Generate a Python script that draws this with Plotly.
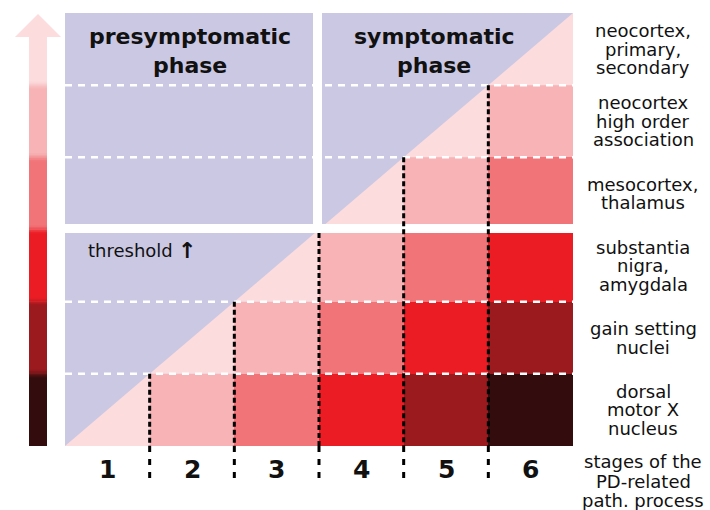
import plotly.graph_objects as go

# ---------------- data ----------------
stages = [1, 2, 3, 4, 5, 6]
regions = [
    "dorsal<br>motor X<br>nucleus",
    "gain setting<br>nuclei",
    "substantia<br>nigra,<br>amygdala",
    "mesocortex,<br>thalamus",
    "neocortex<br>high order<br>association",
    "neocortex,<br>primary,<br>secondary",
]
# pathology level per region (rows, bottom -> top) and stage (columns)
# 0 = not affected, 1 = onset (partial cell), 2..6 = increasing severity
levels = [
    [1, 2, 3, 4, 5, 6],
    [0, 1, 2, 3, 4, 5],
    [0, 0, 1, 2, 3, 4],
    [0, 0, 0, 1, 2, 3],
    [0, 0, 0, 0, 1, 2],
    [0, 0, 0, 0, 0, 1],
]
phase_titles = ["presymptomatic<br>phase", "symptomatic<br>phase"]
threshold_label = "threshold"
threshold_row = 3          # boundary between lower and upper region blocks
symptom_stage = 3          # boundary between presymptomatic and symptomatic stages
stage_axis_title = "stages of the<br>PD-related<br>path. process"

# ---------------- style ----------------
level_colors = ["#CBC8E3", "#FCDCDD", "#F7B3B5", "#F07478",
                "#EC1C24", "#9A1A1E", "#330C0D"]
W, H = 710, 510
GX0, GX1, GY0, GY1 = 65, 573, 446, 13      # grid pixel frame
ux = (GX1 - GX0) / 6.0
uy = (GY0 - GY1) / 6.0


def px_x(p):
    return (p - GX0) / ux


def px_y(p):
    return (GY0 - p) / uy


def hex2rgb(h):
    h = h.lstrip("#")
    return [int(h[i:i + 2], 16) for i in (0, 2, 4)]


def mix(c1, c2, t):
    a, b = hex2rgb(c1), hex2rgb(c2)
    return "rgb(%d,%d,%d)" % tuple(round(a[i] + (b[i] - a[i]) * t) for i in range(3))


n_st = len(stages)
n_rg = len(regions)

fig = go.Figure()

# heat cells
z = [[lv if lv >= 2 else 0 for lv in row] for row in levels]
cs = []
nc = len(level_colors)
for i, c in enumerate(level_colors):
    cs.append([i / nc, c])
    cs.append([(i + 1) / nc, c])
fig.add_trace(go.Heatmap(
    x=list(range(n_st + 1)), y=list(range(n_rg + 1)), z=z,
    zmin=-0.5, zmax=nc - 0.5, colorscale=cs, showscale=False,
    hoverinfo="skip", xgap=0, ygap=0))

# onset triangles
tx, ty = [], []
for r, row in enumerate(levels):
    for c, lv in enumerate(row):
        if lv == 1:
            tx += [c, c + 1, c + 1, c, None]
            ty += [r, r, r + 1, r, None]
fig.add_trace(go.Scatter(x=tx, y=ty, mode="lines", fill="toself",
                         fillcolor=level_colors[1], line=dict(width=0),
                         hoverinfo="skip", showlegend=False))

# white dashed row separators
dx, dy = [], []
for r in range(1, n_rg):
    if r == threshold_row:
        continue
    dx += [0, n_st, None]
    dy += [r, r, None]
fig.add_trace(go.Scatter(x=dx, y=dy, mode="lines",
                         line=dict(color="white", width=2.5, dash="7px,6px"),
                         hoverinfo="skip", showlegend=False))

# white separating bands (threshold and phase split)
band_lo, band_hi = px_y(233), px_y(224)
fig.add_trace(go.Scatter(
    x=[-0.02, n_st + 0.02, n_st + 0.02, -0.02, -0.02, None,
       px_x(313), px_x(322), px_x(322), px_x(313), px_x(313)],
    y=[band_lo, band_lo, band_hi, band_hi, band_lo, None,
       threshold_row, threshold_row, n_rg + 0.05, n_rg + 0.05, threshold_row],
    mode="lines", fill="toself", fillcolor="white", line=dict(width=0),
    hoverinfo="skip", showlegend=False))

# black dotted stage boundaries
vx, vy, bx, by = [], [], [], []
for k in range(1, n_st):
    top = k if k != threshold_row else band_lo
    vx += [k, k, None]
    vy += [top, 0, None]
    bx += [k, k, None]
    by += [0, px_y(484), None]
fig.add_trace(go.Scatter(x=vx, y=vy, mode="lines",
                         line=dict(color="black", width=3, dash="5px,3px"),
                         hoverinfo="skip", showlegend=False))
fig.add_trace(go.Scatter(x=bx, y=by, mode="lines",
                         line=dict(color="black", width=3, dash="6px,7px"),
                         hoverinfo="skip", showlegend=False))

# ---------------- left severity arrow ----------------
shapes = []
sx0, sx1 = px_x(29), px_x(47)
for r in range(n_rg):
    lv = n_rg - r
    y1 = r + 1 if r < n_rg - 1 else px_y(37)
    shapes.append(dict(type="rect", xref="x", yref="y", x0=sx0, x1=sx1,
                       y0=r, y1=y1, fillcolor=level_colors[lv],
                       line=dict(width=0), layer="above"))
# soft blends between arrow blocks
blend_px = 8
nsteps = 6
for r in range(1, n_rg):
    c_lo, c_hi = level_colors[n_rg - r + 1], level_colors[n_rg - r]
    step = blend_px / nsteps / uy
    for s in range(nsteps):
        y0 = r - blend_px / 2 / uy + s * step
        t = (s + 0.5) / nsteps
        shapes.append(dict(type="rect", xref="x", yref="y", x0=sx0, x1=sx1,
                           y0=y0, y1=y0 + step * 1.05, fillcolor=mix(c_lo, c_hi, t),
                           line=dict(width=0), layer="above"))
shapes.append(dict(type="path", xref="x", yref="y",
                   path=f"M {px_x(15)},{px_y(37)} L {px_x(61)},{px_y(37)} "
                        f"L {px_x(38)},{px_y(14)} Z",
                   fillcolor=level_colors[1], line=dict(width=0), layer="above"))

# ---------------- text ----------------
REG = dict(family="DejaVu Sans", size=18, color="#111111")
BOLD_T = dict(family="DejaVu Sans", size=22, color="#111111", weight="bold")
BOLD_N = dict(family="DejaVu Sans", size=25, color="#111111", weight="bold")


def add_lines(text, x, y, font, spacing, xanchor="center"):
    lines = text.split("<br>")
    n = len(lines)
    for i, ln in enumerate(lines):
        off = ((n - 1) / 2.0 - i) * spacing
        fig.add_annotation(x=x, y=y, text=ln, showarrow=False, yshift=off,
                           font=font, xanchor=xanchor, yanchor="middle")


lab_x = px_x(643)
for r, name in enumerate(regions):
    add_lines(name, lab_x, r + 0.5, REG, 18.5)
add_lines(stage_axis_title, lab_x, px_y(481), REG, 19.5)

for c, s in enumerate(stages):
    fig.add_annotation(x=c + 0.5, y=px_y(469), text=str(s), showarrow=False,
                       font=BOLD_N, xanchor="center", yanchor="middle")

add_lines(phase_titles[0], px_x(190), px_y(51), BOLD_T, 29)
add_lines(phase_titles[1], px_x(434), px_y(51), BOLD_T, 29)

fig.add_annotation(x=px_x(86), y=px_y(250), text=threshold_label,
                   showarrow=False, font=REG, xanchor="left", yanchor="middle")
fig.add_annotation(x=px_x(186.5), y=px_y(250), text="↑", showarrow=False,
                   font=dict(family="DejaVu Sans", size=22, color="#111111",
                             weight="bold"),
                   xanchor="center", yanchor="middle")

fig.update_layout(
    width=W, height=H, margin=dict(l=0, r=0, t=0, b=0),
    paper_bgcolor="white", plot_bgcolor="white", showlegend=False,
    xaxis=dict(range=[px_x(0), px_x(W)], visible=False, fixedrange=True),
    yaxis=dict(range=[px_y(H), px_y(0)], visible=False, fixedrange=True),
    shapes=shapes,
)

fig.write_html("out.html", config={"displayModeBar": False},
               post_script="document.body.style.margin='0px';"
                           "document.body.style.padding='0px';")
